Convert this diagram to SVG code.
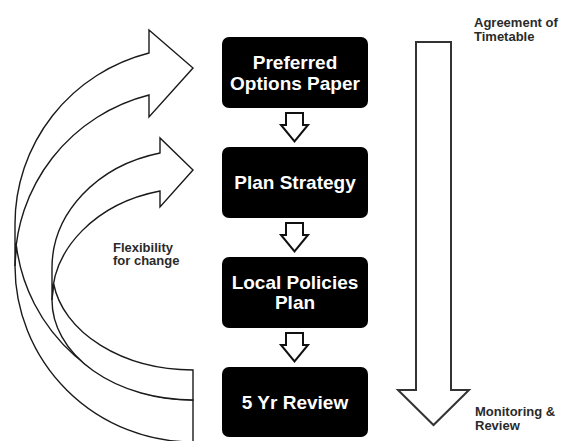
<svg xmlns="http://www.w3.org/2000/svg" width="561" height="441" viewBox="0 0 561 441">
<style>
.box{fill:#000}
.bt{font-family:"Liberation Sans",Arial,sans-serif;font-weight:bold;font-size:19px;fill:#fff;text-anchor:middle}
.lbl{font-family:"Liberation Sans",Arial,sans-serif;font-weight:bold;font-size:13px;fill:#2a2a2a}
.blk{fill:#fff;stroke:#111;stroke-width:2;stroke-linejoin:miter}
.big{fill:#fff;stroke:#333;stroke-width:2}
.crv{fill:#fff;stroke:#1a1a1a;stroke-width:1.4;stroke-linejoin:miter}
</style>
<rect width="561" height="441" fill="#fff"/>
<g id="connectors">
  <g id="curved-outer">
    <path class="crv" d="M15,266 A178 176 0 0 0 193,442 L193,400 A178 176 0 0 1 16.3,245 Z"/>
    <path class="crv" d="M15,266 A178 176.5 0 0 1 149,95 L149,117 L193,68 L149,30 L149,53 A178 176.5 0 0 0 15,224 Z"/>
  </g>
  <g id="curved-inner">
    <path class="crv" d="M52,300 A141 100 0 0 0 193,400 L193,370 A141 100 0 0 1 53.7,284 Z"/>
    <path class="crv" d="M52,300 A141 112.1 0 0 1 160,191 L160,207 L193,170 L160,138 L160,153 A141 118.3 0 0 0 52,268 Z"/>
  </g>
  <path id="arrow-1-2" class="blk" d="M286,113 H303 V125 H308 L294.5,141.5 L281,125 H286 Z"/>
  <path id="arrow-2-3" class="blk" d="M286,223 H303 V235 H308 L294.5,251.5 L281,235 H286 Z"/>
  <path id="arrow-3-4" class="blk" d="M286,333 H303 V345 H308 L294.5,361.5 L281,345 H286 Z"/>
  <path id="timeline" class="big" d="M416,42 H451 V390 H469 L433.5,425 L398,390 H416 Z"/>
</g>
<g id="node-preferred">
  <rect class="box" x="222" y="37" width="146" height="71" rx="7"/>
  <text class="bt" x="295" y="68.5">Preferred</text>
  <text class="bt" x="295" y="89.5">Options Paper</text>
</g>
<g id="node-strategy">
  <rect class="box" x="222" y="147" width="146" height="71" rx="7"/>
  <text class="bt" x="295" y="189">Plan Strategy</text>
</g>
<g id="node-local">
  <rect class="box" x="222" y="257" width="146" height="71" rx="7"/>
  <text class="bt" x="295" y="288.5">Local Policies</text>
  <text class="bt" x="295" y="309">Plan</text>
</g>
<g id="node-review">
  <rect class="box" x="222" y="367" width="146" height="70" rx="7"/>
  <text class="bt" x="295" y="409">5 Yr Review</text>
</g>
<g id="labels">
  <text class="lbl" x="474" y="26.5">Agreement of</text>
  <text class="lbl" x="474" y="40.5">Timetable</text>
  <text class="lbl" x="113" y="251.5">Flexibility</text>
  <text class="lbl" x="113" y="265">for change</text>
  <text class="lbl" x="475" y="416">Monitoring &amp;</text>
  <text class="lbl" x="475" y="430">Review</text>
</g>
</svg>
